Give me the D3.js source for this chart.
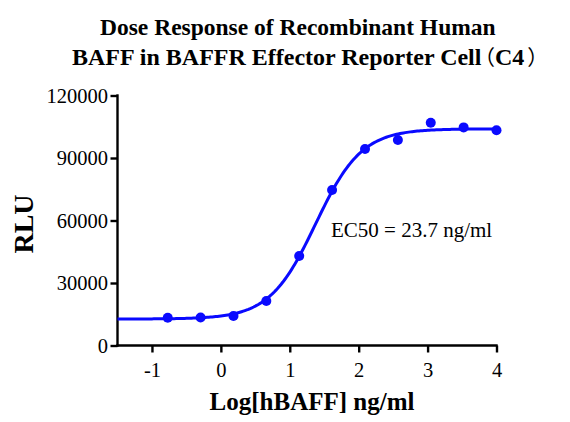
<!DOCTYPE html>
<html>
<head>
<meta charset="utf-8">
<script src="https://cdn.jsdelivr.net/npm/d3@7"></script>
<style>
  body { margin: 0; background: #fff; }
  text { font-family: "Liberation Serif", "Times New Roman", serif; fill: #000; }
  .cjk { font-family: "Noto Sans CJK SC", sans-serif; font-weight: normal; font-feature-settings: "halt"; }
</style>
</head>
<body>
<script>
// log10 of hBAFF concentration (ng/ml), 3-fold dilution series
const logDose = [-0.771, -0.294, 0.183, 0.660, 1.137, 1.614, 2.092, 2.569, 3.046, 3.523, 4.0];
const rlu = [13300, 13400, 14200, 21400, 43000, 74600, 94300, 98600, 106900, 104700, 103300];

// 4PL fit parameters
const fitBottom = 12700;
const fitTop = 104000;
const fitLogEC50 = Math.log10(23.7);
const fitHill = 1.3;

const xTicks = [-1, 0, 1, 2, 3, 4];
const yTicks = [0, 30000, 60000, 90000, 120000];

const W = 570, H = 422;
const blue = '#0a0aff';

const svg = d3.select('body').append('svg')
  .attr('width', W).attr('height', H);

const x = d3.scaleLinear().domain([-1.5, 4]).range([117.5, 496.5]);
const y = d3.scaleLinear().domain([0, 120000]).range([345.5, 95.5]);

// title
svg.append('text')
  .attr('x', 100).attr('y', 35)
  .attr('font-size', 23.5)
  .attr('font-weight', 'bold')
  .text('Dose Response of Recombinant Human');

const t2 = svg.append('text')
  .attr('x', 72).attr('y', 65)
  .attr('font-size', 24)
  .attr('font-weight', 'bold');
t2.append('tspan').text('BAFF in BAFFR Effector Reporter Cell');
t2.append('tspan')
  .attr('class', 'cjk')
  .attr('dx', 3)
  .attr('font-size', 21)
  .text('\uFF08');
t2.append('tspan').text('C4');
t2.append('tspan')
  .attr('class', 'cjk')
  .attr('dx', 3)
  .attr('font-size', 21)
  .text('\uFF09');

// axes
const fmt = d => String(d);
const xAxis = svg.append('g')
  .attr('transform', `translate(0, ${y(0)})`)
  .call(d3.axisBottom(x).tickValues(xTicks).tickSizeOuter(0).tickSize(7).tickPadding(10).tickFormat(fmt));

const yAxis = svg.append('g')
  .attr('transform', `translate(${x(-1.5)}, 0)`)
  .call(d3.axisLeft(y).tickValues(yTicks).tickSizeOuter(0).tickSize(7).tickPadding(2.5).tickFormat(fmt));

[xAxis, yAxis].forEach(a => {
  a.select('.domain').attr('stroke', '#000').attr('stroke-width', 2.4);
  a.selectAll('.tick line').attr('stroke', '#000').attr('stroke-width', 2.4);
  a.selectAll('.tick text')
    .attr('font-family', '"Liberation Serif", serif')
    .attr('font-size', 20.5)
    .attr('fill', '#000');
});
xAxis.select('.domain').attr('d', `M${x(-1.5) - 1.2},0H${x(4) + 1.2}`);
yAxis.select('.domain').attr('d', `M0,${y(0) + 1.2}V${y(120000) - 1.2}`);

// fitted curve
const curveX = d3.range(0, 221).map(i => -1.5 + i * 5.5 / 220);
const fit = v => fitBottom + (fitTop - fitBottom) / (1 + Math.pow(10, (fitLogEC50 - v) * fitHill));

svg.append('path')
  .datum(curveX)
  .attr('fill', 'none')
  .attr('stroke', blue)
  .attr('stroke-width', 3)
  .attr('d', d3.line().x(d => x(d)).y(d => y(fit(d))));

// data points
svg.append('g').selectAll('circle')
  .data(logDose.map((d, i) => [d, rlu[i]]))
  .join('circle')
    .attr('cx', d => x(d[0]))
    .attr('cy', d => y(d[1]))
    .attr('r', 5)
    .attr('fill', blue);

// EC50 annotation
svg.append('text')
  .attr('x', 331).attr('y', 237)
  .attr('font-size', 21)
  .text('EC50 = 23.7 ng/ml');

// axis titles
svg.append('text')
  .attr('x', 312).attr('y', 410)
  .attr('text-anchor', 'middle')
  .attr('font-size', 25)
  .attr('font-weight', 'bold')
  .text('Log[hBAFF] ng/ml');

svg.append('text')
  .attr('transform', 'translate(33, 224) rotate(-90)')
  .attr('text-anchor', 'middle')
  .attr('font-size', 28)
  .attr('font-weight', 'bold')
  .text('RLU');
</script>
</body>
</html>
